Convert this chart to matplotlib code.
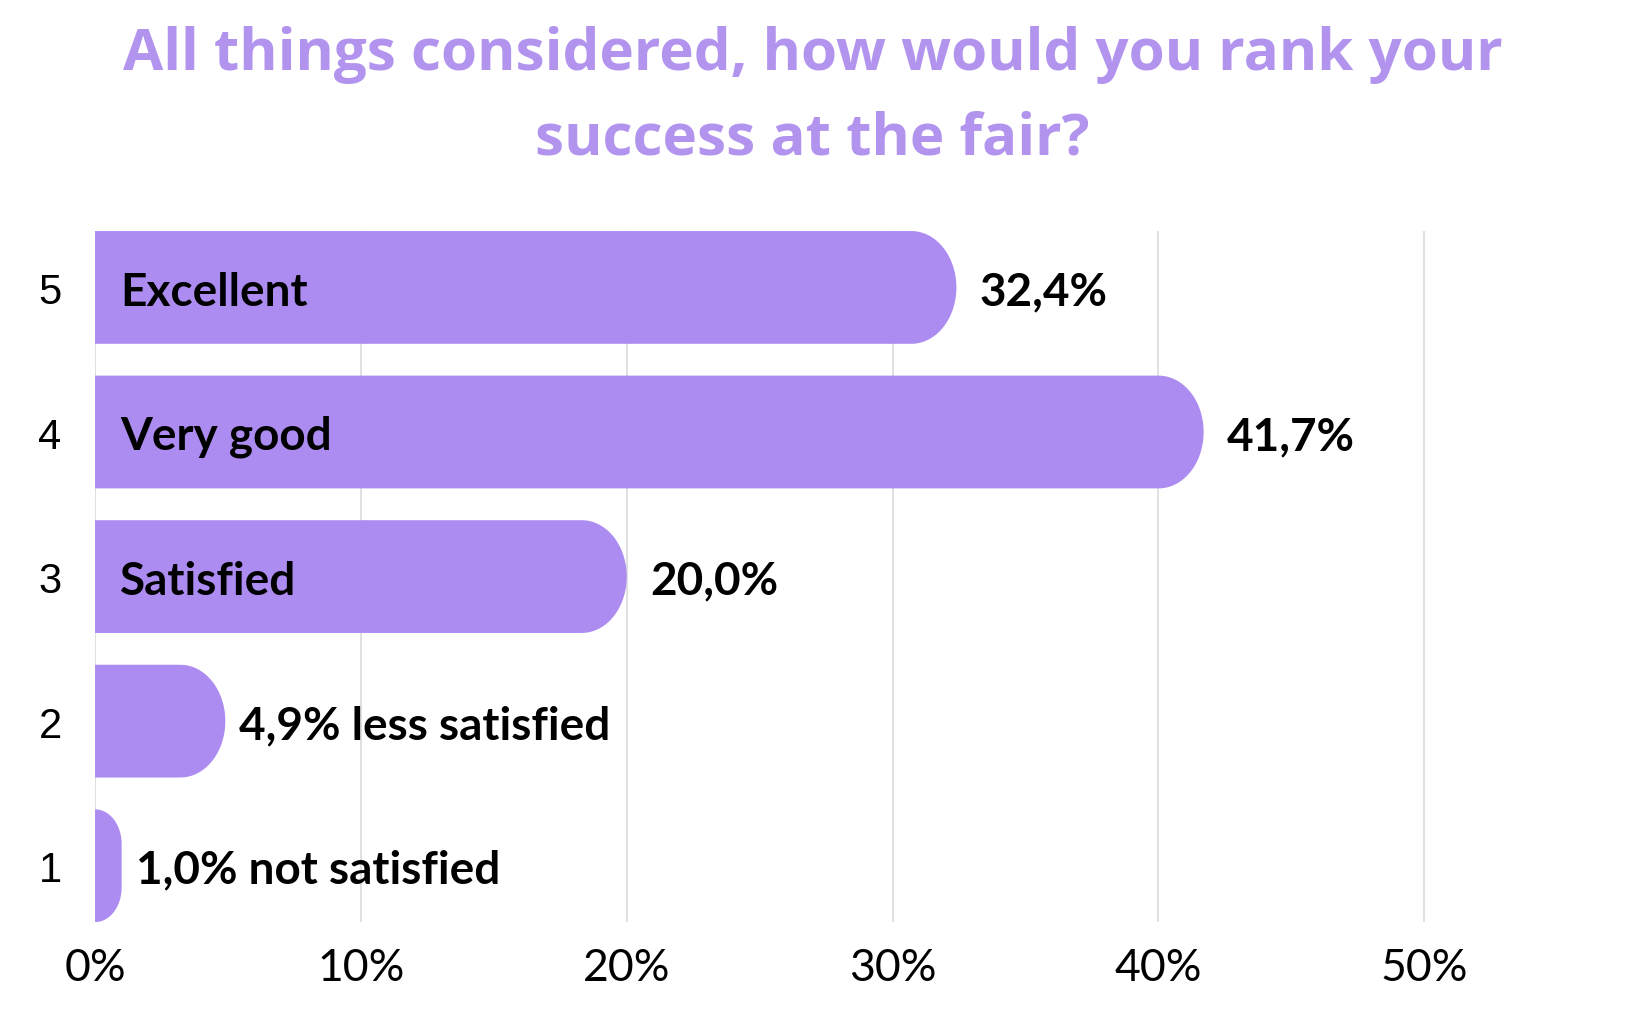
import numpy as np
import matplotlib.pyplot as plt
from matplotlib.patches import Polygon

ratings = [5, 4, 3, 2, 1]
shares = [32.4, 41.7, 20.0, 4.9, 1.0]
names = ["Excellent", "Very good", "Satisfied", "less satisfied", "not satisfied"]
xticks = [0, 10, 20, 30, 40, 50]

title = "All things considered, how would you rank your\nsuccess at the fair?"

purple = "#ad8cf2"
title_col = "#b294ef"

fig = plt.figure(figsize=(16.25, 10.2), dpi=100)
ax = fig.add_axes([0.0585, 0.095, 0.9325, 0.6775])
ax.set_xlim(0, 57)
ax.set_ylim(0.61, 5.39)

# pixel scale of data units, used to keep the rounded ends round
fig.canvas.draw()
p0 = ax.transData.transform((0, 0))
p1 = ax.transData.transform((1, 1))
px_x = p1[0] - p0[0]
px_y = p1[1] - p0[1]

h = 0.78
for y, v in zip(ratings, shares):
    rx_px = min(45, v * px_x)
    ry_px = min(h / 2 * px_y, rx_px * 1.3)
    rx = rx_px / px_x
    ry = ry_px / px_y
    t = np.linspace(0, np.pi / 2, 30)
    top = np.column_stack([v - rx + rx * np.sin(t), y + h / 2 - ry + ry * np.cos(t)])
    bot = np.column_stack([v - rx + rx * np.cos(t), y - h / 2 + ry - ry * np.sin(t)])
    pts = np.vstack([[0, y + h / 2], top, bot, [0, y - h / 2]])
    ax.add_patch(Polygon(pts, closed=True, facecolor=purple, edgecolor="none", zorder=2))

lab_font = dict(family=["Lato", "DejaVu Sans"], fontweight="bold", fontsize=33, color="black")
for y, v, n in zip(ratings, shares, names):
    pct = f"{v:.1f}".replace(".", ",") + "%"
    if v >= 10:
        ax.annotate(n, (0, y), xytext=(18, -3), textcoords="offset points",
                    va="center", ha="left", zorder=3, **lab_font)
        ax.annotate(pct, (v, y), xytext=(17, -3), textcoords="offset points",
                    va="center", ha="left", zorder=3, **lab_font)
    else:
        ax.annotate(pct + " " + n, (v, y), xytext=(10, -3), textcoords="offset points",
                    va="center", ha="left", zorder=3, **lab_font)

ax.set_xticks(xticks)
ax.set_xticklabels([f"{x}%" for x in xticks], family=["Lato", "DejaVu Sans"], fontsize=32)
ax.set_yticks(ratings)
ax.set_yticklabels([str(r) for r in ratings], family=["Liberation Sans", "DejaVu Sans"], fontsize=30)
ax.tick_params(axis="both", length=0)
ax.tick_params(axis="x", pad=18)
ax.tick_params(axis="y", pad=24)
ax.grid(axis="x", color="#dddddd", linewidth=1.3, zorder=0)
ax.set_axisbelow(True)
for s in ax.spines.values():
    s.set_visible(False)

fig.text(0.5, 0.905, title, ha="center", va="center", color=title_col,
         family=["Open Sans", "DejaVu Sans"], fontweight="bold", fontsize=42, linespacing=1.6)

fig.savefig("out.png", dpi=100, facecolor="white")
